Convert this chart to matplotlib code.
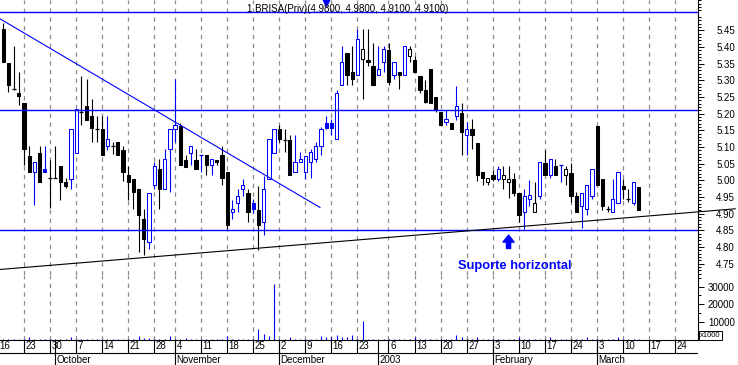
import numpy as np
import matplotlib
matplotlib.use("Agg")
import matplotlib.pyplot as plt

plt.rcParams['font.family'] = ['Liberation Sans', 'DejaVu Sans']

# daily candles, one per trading day (16 Sep 2002 .. 12 Mar 2003)
opens = [5.455, 5.353, 5.274, 5.262, 5.233, 5.074, 5.024, 5.082, 5.034, 5.008,
         5.006, 5.044, 4.994, 5.004, 5.082, 5.205, 5.223, 5.194, 5.155, 5.155,
         5.102, 5.104, 5.114, 5.092, 5.015, 5.005, 4.975, 4.885, 4.815, 4.985,
         5.035, 4.975, 5.094, 5.155, 5.164, 5.062, 5.082, 5.062, 5.075, 5.075,
         5.045, 5.062, 5.075, 5.024, 4.905, 4.932, 4.975, 4.962, 4.932, 4.912,
         4.875, 5.004, 5.082, 5.155, 5.122, 5.122, 5.024, 5.054, 5.024, 5.054,
         5.064, 5.104, 5.172, 5.172, 5.124, 5.285, 5.382, 5.324, 5.315, 5.364,
         5.362, 5.344, 5.315, 5.354, 5.392, 5.315, 5.324, 5.315, 5.374, 5.362,
         5.314, 5.272, 5.334, 5.251, 5.204, 5.174, 5.172, 5.194, 5.202, 5.135,
         5.155, 5.112, 5.024, 4.995, 5.015, 5.005, 5.004, 4.995, 5.004, 4.962,
         4.905, 4.944, 4.905, 4.952, 5.052, 5.015, 5.044, 5.046, 5.015, 5.022,
         4.952, 4.922, 4.915, 4.952, 5.164, 5.004, 4.914, 4.905, 4.932, 4.984,
         4.944, 4.932, 4.980]
highs = [5.472, 5.353, 5.404, 5.326, 5.233, 5.104, 5.055, 5.104, 5.104, 5.060,
         5.104, 5.044, 5.007, 5.155, 5.214, 5.314, 5.304, 5.244, 5.194, 5.194,
         5.194, 5.114, 5.114, 5.104, 5.042, 5.005, 4.975, 4.915, 4.963, 5.054,
         5.065, 5.094, 5.154, 5.304, 5.172, 5.075, 5.104, 5.094, 5.075, 5.075,
         5.064, 5.062, 5.104, 5.024, 4.942, 4.975, 5.004, 4.975, 4.945, 4.982,
         5.012, 5.124, 5.155, 5.165, 5.154, 5.137, 5.137, 5.084, 5.074, 5.094,
         5.114, 5.160, 5.194, 5.184, 5.272, 5.404, 5.382, 5.404, 5.454, 5.454,
         5.454, 5.412, 5.404, 5.404, 5.412, 5.354, 5.324, 5.404, 5.404, 5.374,
         5.314, 5.302, 5.334, 5.251, 5.204, 5.212, 5.172, 5.282, 5.232, 5.174,
         5.184, 5.112, 5.024, 5.004, 5.032, 5.042, 5.042, 5.042, 5.022, 4.962,
         4.975, 5.002, 4.995, 5.054, 5.092, 5.064, 5.064, 5.046, 5.044, 5.052,
         4.964, 4.962, 4.985, 5.034, 5.164, 5.004, 4.922, 5.004, 5.025, 5.004,
         4.975, 4.995, 4.980]
lows = [5.354, 5.264, 5.272, 5.227, 5.045, 5.024, 4.925, 4.994, 5.024, 4.916,
        5.006, 4.942, 4.977, 4.975, 5.082, 5.165, 5.182, 5.114, 5.115, 5.075,
        5.092, 5.080, 5.075, 4.997, 4.942, 4.914, 4.785, 4.775, 4.795, 4.975,
        4.915, 4.975, 4.965, 5.115, 5.045, 5.040, 5.045, 5.034, 5.024, 5.015,
        5.015, 5.045, 4.985, 4.855, 4.885, 4.905, 4.952, 4.875, 4.902, 4.792,
        4.837, 5.004, 5.082, 5.115, 5.084, 5.015, 5.024, 5.054, 5.004, 5.007,
        5.054, 5.075, 5.155, 5.137, 5.124, 5.285, 5.285, 5.287, 5.315, 5.244,
        5.344, 5.285, 5.315, 5.324, 5.285, 5.304, 5.274, 5.315, 5.354, 5.324,
        5.262, 5.232, 5.232, 5.204, 5.165, 5.165, 5.155, 5.180, 5.075, 5.075,
        5.094, 4.997, 4.985, 4.985, 4.997, 4.997, 4.975, 4.947, 4.952, 4.875,
        4.855, 4.922, 4.905, 4.945, 5.015, 5.007, 5.015, 4.994, 4.987, 4.934,
        4.905, 4.857, 4.895, 4.944, 4.985, 4.912, 4.905, 4.905, 4.932, 4.944,
        4.934, 4.925, 4.910]
closes = [5.354, 5.285, 5.274, 5.252, 5.093, 5.024, 5.055, 4.994, 5.024, 5.008,
          5.006, 4.994, 4.984, 5.155, 5.214, 5.205, 5.182, 5.156, 5.155, 5.075,
          5.123, 5.104, 5.075, 5.024, 4.994, 4.965, 4.895, 4.825, 4.963, 5.042,
          4.975, 5.064, 5.154, 5.166, 5.045, 5.040, 5.104, 5.034, 5.075, 5.045,
          5.064, 5.054, 5.007, 4.865, 4.914, 4.952, 4.985, 4.904, 4.914, 4.865,
          4.975, 5.124, 5.155, 5.124, 5.122, 5.015, 5.054, 5.064, 5.074, 5.084,
          5.104, 5.155, 5.157, 5.157, 5.262, 5.354, 5.315, 5.305, 5.424, 5.394,
          5.354, 5.285, 5.334, 5.394, 5.294, 5.354, 5.315, 5.404, 5.394, 5.324,
          5.270, 5.234, 5.232, 5.211, 5.165, 5.184, 5.155, 5.222, 5.144, 5.154,
          5.135, 5.015, 5.008, 5.006, 5.003, 5.034, 5.015, 5.004, 4.962, 4.895,
          4.952, 4.955, 4.932, 5.054, 5.015, 5.064, 5.015, 5.046, 5.034, 4.952,
          4.905, 4.962, 4.985, 5.034, 4.985, 4.922, 4.914, 4.944, 5.025, 4.975,
          4.944, 4.995, 4.910]
volume = [300, 400, 600, 600, 400, 1500, 300, 400, 600, 600,
          300, 600, 400, 1500, 600, 600, 600, 600, 600, 300,
          400, 600, 600, 600, 300, 400, 1900, 1100, 1100, 400,
          600, 600, 1900, 400, 300, 1100, 600, 300, 400, 300,
          600, 600, 300, 1900, 600, 600, 600, 600, 300, 6000,
          3300, 2300, 31500, 300, 600, 1500, 600, 300, 600, 600,
          300, 2300, 1500, 1500, 2600, 1500, 1500, 2600, 300, 10500,
          200, 200, 300, 200, 300, 300, 600, 600, 300, 1500,
          300, 300, 300, 600, 600, 600, 300, 2600, 1500, 300,
          600, 1500, 300, 600, 600, 300, 300, 600, 600, 1500,
          300, 600, 600, 600, 600, 1500, 300, 600, 600, 300,
          600, 600, 1500, 300, 300, 600, 300, 300, 1500, 300,
          300, 600, 600]

# date axis: trading-day index of each labelled Monday, and of month starts
week_idx = [0, 5, 10, 15, 20, 25, 30, 34, 39, 44, 49, 54, 59, 64, 69,
            75, 80, 85, 90, 95, 100, 105, 110, 115, 120, 125, 130]
week_lbl = ['16', '23', '30', '7', '14', '21', '28', '4', '11', '18', '25', '2', '9', '16', '23',
            '6', '13', '20', '27', '3', '10', '17', '24', '3', '10', '17', '24']
month_idx = [11, 34, 54, 73, 95, 115]
month_lbl = ['October', 'November', 'December', '2003', 'February', 'March']

# drawn lines
top_level = 5.505
resistance = 5.21
support = 4.85
down_x, down_y = [-0.6, 60.8], [5.485, 4.919]
up_x, up_y = [-0.6, 140.5], [4.733, 4.915]
marker_idx = 62
arrow_idx = 97

title = "1 BRISA(Priv)(4.9800, 4.9800, 4.9100, 4.9100)"

W, H = 738, 365
fig = plt.figure(figsize=(W / 100, H / 100), dpi=100)
axr = 698 / W
ax_p = fig.add_axes([0, 1 - 275 / H, axr, 275 / H])
ax_v = fig.add_axes([0, 1 - 339.7 / H, axr, (339.7 - 275) / H], sharex=ax_p)
ax_d = fig.add_axes([0, 0, axr, (H - 339.7) / H], sharex=ax_p)

xlim = (-0.61, 133.36)
tick_off = -1.05
ticks = [w + tick_off for w in week_idx]
mticks = [m + tick_off for m in month_idx]

blue = '#0000ff'
grid_kw = dict(color='#8c8c8c', lw=0.9, linestyle=(0, (3.5, 3.5)), zorder=1)

# ---- price panel
x = np.arange(len(closes))
o = np.array(opens); c = np.array(closes)
prev = np.concatenate([[o[0]], c[:-1]])
cols = [blue if c[i] >= prev[i] else 'black' for i in range(len(c))]
ax_p.vlines(ticks, 0, 1, transform=ax_p.get_xaxis_transform(), **grid_kw)
ax_p.vlines(x, lows, highs, colors=cols, lw=0.8, zorder=2)
for i in range(len(c)):
    if abs(c[i] - o[i]) < 1e-9:
        ax_p.hlines(c[i], i - 0.38, i + 0.38, colors=cols[i], lw=0.9, zorder=3)
    else:
        fc = cols[i] if c[i] < o[i] else 'white'
        ax_p.bar(i, abs(c[i] - o[i]), bottom=min(c[i], o[i]), width=0.62,
                 facecolor=fc, edgecolor=cols[i], linewidth=0.75, zorder=3)

for lv in (top_level, resistance, support):
    ax_p.axhline(lv, color=blue, lw=1.0, zorder=4)
ax_p.plot(down_x, down_y, color=blue, lw=0.8, zorder=4)
ax_p.plot(up_x, up_y, color='black', lw=0.8, zorder=4, clip_on=False)

ax_p.plot(marker_idx, 5.534, marker='v', ms=6, color=blue, clip_on=False, zorder=6)
ax_p.annotate('', xy=(arrow_idx, 4.836), xytext=(arrow_idx, 4.796),
              arrowprops=dict(arrowstyle='simple,head_width=0.8,head_length=0.5,tail_width=0.3',
                              color=blue, shrinkA=0, shrinkB=0))
ax_p.text(98.2, 4.744, 'Suporte horizontal', color=blue, fontsize=9.3,
          fontweight='bold', ha='center', va='center')

ax_p.set_xlim(*xlim)
ax_p.set_ylim(4.7164, 5.5415)
ax_p.set_yticks(np.round(np.arange(4.75, 5.451, 0.05), 2))
ax_p.set_yticks([v for v in np.round(np.arange(4.72, 5.545, 0.01), 2)
                 if round(v * 100) % 5 != 0], minor=True)
ax_p.yaxis.set_major_formatter(matplotlib.ticker.FormatStrFormatter('%.2f'))

# ---- volume panel
ax_v.vlines(ticks, 0, 1, transform=ax_v.get_xaxis_transform(), **grid_kw)
ax_v.vlines(x, 0, volume, colors=blue, lw=0.8, zorder=2)
ax_v.set_ylim(0, 36550)
ax_v.set_yticks([10000, 20000, 30000])
ax_v.set_yticks([5000, 15000, 25000, 35000], minor=True)

for ax in (ax_p, ax_v):
    for s in ('left', 'top', 'bottom'):
        ax.spines[s].set_visible(False)
    ax.spines['right'].set_linewidth(0.8)
    ax.yaxis.tick_right()
    ax.tick_params(axis='x', bottom=False, labelbottom=False)
    ax.tick_params(axis='y', which='major', direction='out', length=4, width=0.7,
                   labelsize=7, pad=22.5)
    ax.tick_params(axis='y', which='minor', direction='out', length=2.2, width=0.7)
    for lbl in ax.get_yticklabels():
        lbl.set_horizontalalignment('right')
ax_v.spines['bottom'].set_visible(True)
ax_v.spines['bottom'].set_linewidth(0.8)

fig.text(700 / W, 1 - 335.5 / H, 'x1000', fontsize=5.5, ha='left', va='center',
         bbox=dict(boxstyle='square,pad=0.15', fc='white', ec='black', lw=0.7))

# ---- date strip
ax_d.set_ylim(0, 1)
ax_d.axis('off')
ax_d.axhline(0.474, color='black', lw=0.8)
for t, lb in zip(ticks, week_lbl):
    ax_d.vlines(t, 0.474, 1, colors='black', lw=0.8)
    ax_d.text(t + 0.3, 0.74, lb, fontsize=7, ha='left', va='center', clip_on=False)
for t, lb in zip(mticks, month_lbl):
    ax_d.vlines(t, 0, 1, colors='black', lw=0.8)
    ax_d.text(t + 0.3, 0.2, lb, fontsize=7, ha='left', va='center')

fig.text(348 / W, 1 - 9 / H, title, fontsize=7, ha='center', va='center')

fig.savefig('out.png', dpi=100, facecolor='white')
